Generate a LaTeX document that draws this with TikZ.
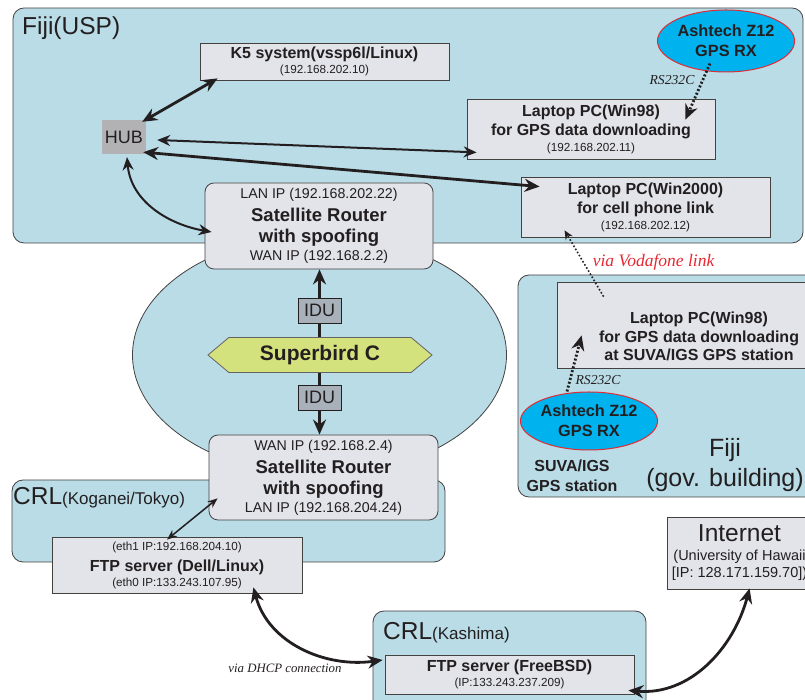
\documentclass[tikz,border=0pt]{standalone}
\usepackage{fontspec}
\setmainfont{Liberation Sans}
\newfontfamily\notefont{Liberation Serif}
\usetikzlibrary{arrows.meta,shapes.geometric,shapes.symbols}

\definecolor{regionblue}{RGB}{185,220,230}
\definecolor{boxgray}{RGB}{226,228,234}
\definecolor{hubgray}{RGB}{178,178,180}
\definecolor{idugray}{RGB}{168,176,186}
\definecolor{birdgreen}{RGB}{212,226,126}
\definecolor{gpscyan}{RGB}{0,178,238}
\definecolor{gpsred}{RGB}{226,44,52}
\definecolor{inkdark}{RGB}{35,31,32}
\definecolor{notered}{RGB}{230,40,50}

\newcommand\hdfont{\bfseries\fontsize{16}{19}\selectfont}
\newcommand\rtfont{\bfseries\fontsize{18.5}{21}\selectfont}
\newcommand\ipfont{\fontsize{11.7}{15}\selectfont}
\newcommand\wanfont{\fontsize{14.2}{18}\selectfont}
\newcommand\areafont{\fontsize{24.5}{29}\selectfont}
\newcommand\subareafont{\fontsize{17}{20}\selectfont}
\newcommand\unifont{\fontsize{14.5}{17}\selectfont}

\begin{document}
\begin{tikzpicture}[x=1pt,y=1pt,color=inkdark,
    region/.style={draw=inkdark!85,fill=regionblue,line width=0.8pt,rounded corners=11pt},
    pcbox/.style={draw=inkdark!85,fill=boxgray,line width=0.8pt,inner sep=0pt,align=center},
    router/.style={pcbox,rounded corners=9pt},
    gpsrx/.style={ellipse,draw=gpsred,fill=gpscyan,line width=1pt,inner sep=0pt,align=center,font=\bfseries\fontsize{16.3}{20}\selectfont},
    idubox/.style={draw=inkdark,fill=idugray,line width=0.8pt,minimum width=43,minimum height=25,inner sep=0pt,font=\fontsize{18}{18}\selectfont},
    note/.style={font=\notefont\itshape,inner sep=0pt,anchor=base},
    biglink/.style={line width=2.8pt,{Stealth[length=15pt,width=13pt]}-{Stealth[length=15pt,width=13pt]}},
    midlink/.style={line width=2pt,{Stealth[length=13pt,width=11pt]}-{Stealth[length=13pt,width=11pt]}},
    thinlink/.style={line width=1.5pt,{Stealth[length=10pt,width=8pt]}-{Stealth[length=10pt,width=8pt]}},
    rslink/.style={line width=2.8pt,dash pattern=on 2pt off 2pt,-{Stealth[length=15pt,width=13pt]}},
  ]
  \useasboundingbox (0,0) rectangle (805,700);

  % sites
  \path[region] (13,692) rectangle (803,457);
  \path[region] (12,220) rectangle (445,138);
  \path[region] (518,425) rectangle (840,203);
  \path[region] (373,89) rectangle (646,-30);
  \draw[fill=regionblue,line width=0.8pt,draw=inkdark!85] (319.5,345) ellipse [x radius=187,y radius=120];

  \node[anchor=base west,inner sep=0pt,font=\areafont] (uspname) at (22,665) {Fiji(USP)};
  \node[anchor=base west,inner sep=0pt] (koganeiname) at (13,195) {{\areafont CRL}{\subareafont(Koganei/Tokyo)}};
  \node[anchor=base west,inner sep=0pt] (kashimaname) at (383,60) {{\areafont CRL}{\subareafont(Kashima)}};
  \node[align=center,inner sep=0pt,anchor=base,font=\fontsize{25}{30}\selectfont] (govname) at (725,213) {Fiji\\(gov. building)};
  \node[align=center,inner sep=0pt,anchor=base,font=\bfseries\fontsize{16}{20}\selectfont] (suvaname) at (572,208) {SUVA/IGS\\GPS station};

  % machines
  \begin{scope}[every node/.append style={pcbox}]
    \node[minimum width=249,minimum height=37,font=\fontsize{12}{15}\selectfont] (k5) at (324.5,638.5)
      {{\hdfont K5 system(vssp6l/Linux)}\\{\ipfont (192.168.202.10)}};
    \node[minimum width=248,minimum height=60,font=\fontsize{12}{16}\selectfont] (win98) at (591,571)
      {{\hdfont Laptop PC(Win98)}\\[3pt]{\hdfont for GPS data downloading}\\{\ipfont (192.168.202.11)}};
    \node[minimum width=249,minimum height=60,font=\fontsize{12}{16}\selectfont] (win2k) at (645.5,493)
      {{\hdfont Laptop PC(Win2000)}\\[3pt]{\hdfont for cell phone link}\\{\ipfont (192.168.202.12)}};
    \node[minimum width=284,minimum height=86] (govpc) at (699,375) {};
    \node[minimum width=250,minimum height=56,font=\fontsize{12}{15}\selectfont] (dell) at (177,135)
      {{\ipfont (eth1 IP:192.168.204.10)}\\[6pt]{\hdfont FTP server (Dell/Linux)}\\{\ipfont (eth0 IP:133.243.107.95)}};
    \node[minimum width=249,minimum height=39,font=\fontsize{12}{15}\selectfont] (bsd) at (509.5,25.5)
      {{\hdfont FTP server (FreeBSD)}\\{\ipfont (IP:133.243.237.209)}};
    \node[minimum width=145,minimum height=72,font=\fontsize{14.5}{17}\selectfont] (inet) at (739.5,147)
      {{\areafont Internet}\\[2pt]{\unifont (University of Hawaii}\\{\unifont [IP: 128.171.159.70])}};
    \node[router,minimum width=228,minimum height=86,font=\fontsize{13.5}{18}\selectfont] (rt1) at (319,474)
      {{\wanfont LAN IP (192.168.202.22)}\\[5pt]{\rtfont Satellite Router}\\[3pt]{\rtfont with spoofing}\\{\wanfont WAN IP (192.168.2.2)}};
    \node[router,minimum width=229,minimum height=85,font=\fontsize{13.5}{18}\selectfont] (rt2) at (323.5,222.5)
      {{\wanfont WAN IP (192.168.2.4)}\\[5pt]{\rtfont Satellite Router}\\[3pt]{\rtfont with spoofing}\\{\wanfont LAN IP (192.168.204.24)}};
  \end{scope}
  \node[align=center,inner sep=0pt,font=\bfseries\fontsize{16}{18.5}\selectfont,anchor=base] (govpctext) at (699,339)
    {Laptop PC(Win98)\\for GPS data downloading\\at SUVA/IGS GPS station};

  \node[draw=none,fill=hubgray,minimum width=44,minimum height=34,inner sep=0pt,font=\fontsize{18}{18}\selectfont] (hub) at (124,563) {HUB};
  \node[gpsrx,minimum width=128,minimum height=62] (gpsusp) at (726,659) {Ashtech Z12\\GPS RX};
  \node[gpsrx,minimum width=128,minimum height=58] (gpssuva) at (589,279) {Ashtech Z12\\GPS RX};

  % satellite link
  \node[signal,signal to=west and east,signal pointer angle=80,fill=birdgreen,draw=inkdark!70,line width=0.8pt,
        minimum width=224,minimum height=35,inner sep=0pt,font=\bfseries\fontsize{21}{21}\selectfont] (bird) at (320,345) {Superbird C};
  \node[idubox] (idu1) at (319.5,389.5) {IDU};
  \node[idubox] (idu2) at (319.5,302.5) {IDU};
  \draw[line width=2.8pt] (idu1.south) -- (idu1.south |- bird.north);
  \draw[line width=2.8pt,-{Stealth[length=15pt,width=13pt]}] (idu1.north) -- (idu1.north |- rt1.south);
  \draw[line width=2.8pt] (idu2.north) -- (idu2.north |- bird.south);
  \draw[line width=2.8pt,-{Stealth[length=15pt,width=13pt]}] (idu2.south) -- (idu2.south |- rt2.north);

  % LAN links
  \path ([xshift=-4pt,yshift=-2pt]hub.north east) edge[biglink] ([xshift=18pt,yshift=2pt]k5.south west);
  \path ([xshift=11pt,yshift=-3pt]hub.east) edge[midlink] ([xshift=10pt,yshift=7pt]win98.south west);
  \path ([xshift=-3pt,yshift=2pt]hub.south east) edge[biglink] ([xshift=19pt,yshift=-10pt]win2k.north west);
  \path ([xshift=3pt,yshift=-3pt]hub.south) edge[midlink,out=-85,in=170] ([xshift=7pt,yshift=-6pt]rt1.west);
  \path ([xshift=9pt,yshift=22pt]rt2.south west) edge[thinlink] ([xshift=-10pt,yshift=-3pt]dell.north);
  \path ([xshift=-49pt,yshift=6pt]dell.south east) edge[biglink,out=-75,in=188] ([xshift=-2pt,yshift=14.5pt]bsd.west);
  \path ([xshift=-6pt,yshift=4pt]bsd.south east) edge[biglink,out=-5,in=-105] ([xshift=83pt,yshift=1pt]inet.south west);

  % serial and phone links
  \path ([xshift=-16pt,yshift=9pt]gpsusp.south) edge[rslink] ([xshift=-30pt,yshift=-21pt]win98.north east);
  \path ([xshift=-22pt]gpssuva.north) edge[rslink] ([xshift=25pt,yshift=33pt]govpc.south west);
  \path ([xshift=47pt,yshift=-15pt]govpc.north west) edge[line width=1.6pt,dash pattern=on 1.6pt off 2pt,-{Stealth[length=9pt,width=8pt]}] ([xshift=44pt,yshift=7pt]win2k.south west);

  \node[note,font=\notefont\itshape\fontsize{13.7}{16}\selectfont] (rsusp) at (672,615) {RS232C};
  \node[note,font=\notefont\itshape\fontsize{13.7}{16}\selectfont] (rssuva) at (598,315) {RS232C};
  \node[note,text=notered,font=\notefont\itshape\fontsize{17.5}{20}\selectfont] (vodanote) at (653.5,433) {via Vodafone link};
  \node[note,font=\notefont\itshape\fontsize{12.8}{15}\selectfont] (dhcpnote) at (285,27) {via DHCP connection};
\end{tikzpicture}
\end{document}
